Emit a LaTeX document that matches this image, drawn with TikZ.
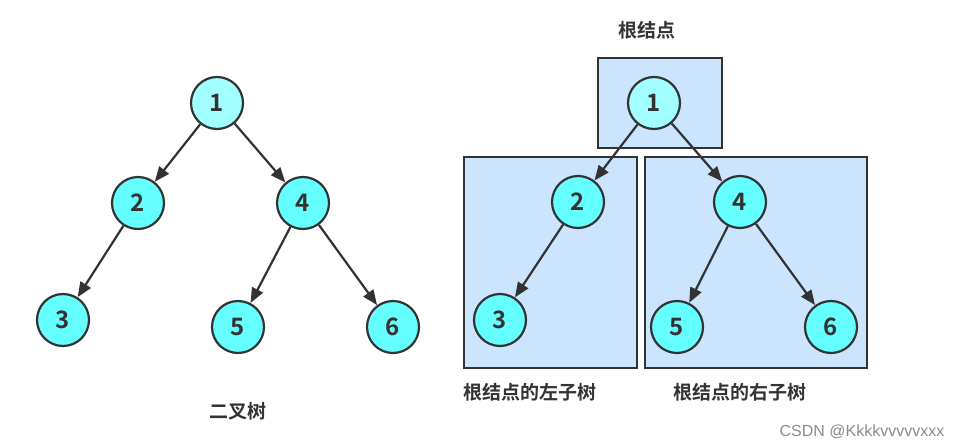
\documentclass[tikz,border=0pt]{standalone}
\usepackage{fontspec}
\usetikzlibrary{arrows.meta}
\newfontfamily\cjkb[BoldFont={Noto Sans CJK SC Bold}]{Noto Sans CJK SC Bold}
\newfontfamily\wmfont{Liberation Sans}
\definecolor{nodecyan}{HTML}{66FFFF}
\definecolor{rootcyan}{HTML}{A2FFFF}
\definecolor{boxblue}{HTML}{CCE5FF}
\definecolor{darkline}{HTML}{333333}
\definecolor{wmgray}{HTML}{8A8A8A}
\tikzset{
  treenode/.style={circle, draw=darkline, line width=2.2pt, fill=nodecyan,
    minimum size=52pt, inner sep=0pt, font=\cjkb\fontsize{24}{24}\selectfont, text=darkline},
  rootnode/.style={treenode, fill=rootcyan},
  edge/.style={draw=darkline, line width=2.2pt, -{Triangle[length=15pt,width=12pt]}},
  subbox/.style={draw=darkline, line width=2.5pt, fill=boxblue},
  caption/.style={font=\cjkb\fontsize{19}{19}\selectfont, text=darkline, inner sep=0pt}
}
\begin{document}
\begin{tikzpicture}[x=1pt,y=-1pt]
\useasboundingbox (0,0) rectangle (960,447);
% left tree
\node[rootnode] (a1) at (217,103) {1};
\node[treenode] (a2) at (138,203) {2};
\node[treenode] (a4) at (303,203) {4};
\node[treenode] (a3) at (63,320) {3};
\node[treenode] (a5) at (238,327) {5};
\node[treenode] (a6) at (393,327) {6};
\draw[edge] (a1) -- (a2);
\draw[edge] (a1) -- (a4);
\draw[edge] (a2) -- (a3);
\draw[edge] (a4) -- (a5);
\draw[edge] (a4) -- (a6);
\node[caption] (capA) at (238,411) {二叉树};
% right tree boxes
\draw[subbox] (598,58) rectangle (722,148);
\draw[subbox] (464,157) rectangle (637,368);
\draw[subbox] (645,157) rectangle (867,368);
\node[rootnode] (b1) at (654,103) {1};
\node[treenode] (b2) at (578,202) {2};
\node[treenode] (b4) at (740,202) {4};
\node[treenode] (b3) at (500,320) {3};
\node[treenode] (b5) at (677,327) {5};
\node[treenode] (b6) at (831,327) {6};
\draw[edge] (b1) -- (b2);
\draw[edge] (b1) -- (b4);
\draw[edge] (b2) -- (b3);
\draw[edge] (b4) -- (b5);
\draw[edge] (b4) -- (b6);
\node[caption] (capRoot) at (647,30) {根结点};
\node[caption] (capL) at (530,392) {根结点的左子树};
\node[caption] (capR) at (740,392) {根结点的右子树};
\node[font=\wmfont\fontsize{16}{16}\selectfont, text=wmgray, inner sep=0pt] (wm) at (862,432) {CSDN @Kkkkvvvvvxxx};
\end{tikzpicture}
\end{document}
